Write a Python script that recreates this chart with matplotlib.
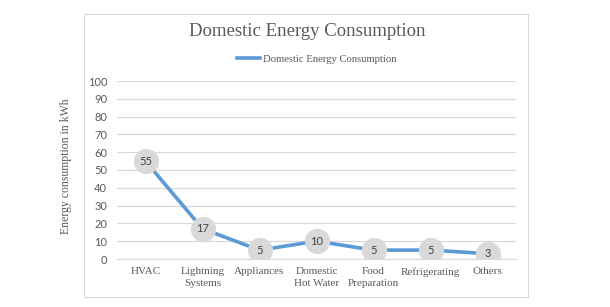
import matplotlib.pyplot as plt
from matplotlib.patches import Rectangle

# chart data
categories = ["HVAC", "Lightning\nSystems", "Appliances", "Domestic\nHot Water",
              "Food\nPreparation", "Refrigerating", "Others"]
consumption = [55, 17, 5, 10, 5, 5, 3]
yticks = list(range(0, 101, 10))

grey = "#595959"
blue = "#5b9bd5"

fig = plt.figure(figsize=(6.1, 3.07), dpi=100)
fig.patch.set_facecolor("white")

# outer chart border
fig.add_artist(Rectangle((84 / 610, 1 - 297 / 307), (528 - 84) / 610, (297 - 14) / 307,
                         transform=fig.transFigure, fill=False, edgecolor="#d9d9d9", lw=0.8))

ax = fig.add_axes([117 / 610, 1 - 259 / 307, (516 - 117) / 610, (259 - 81) / 307])
x = list(range(len(categories)))
ax.plot(x, consumption, color=blue, lw=2.6, zorder=2, label="Domestic Energy Consumption")
ax.scatter(x, consumption, s=330, color="#d9d9d9", zorder=3, linewidths=0)
for xi, v in zip(x, consumption):
    ax.text(xi, v, str(v), ha="center", va="center", fontsize=8, color="#404040",
            family="Lato", zorder=4)

ax.set_xlim(-0.5, len(categories) - 0.5)
ax.set_ylim(0, 100)
ax.set_yticks(yticks)
ax.set_yticklabels([str(t) for t in yticks], fontsize=8, color=grey, family="Lato")
ax.set_xticks(x)
ax.set_xticklabels(categories, fontsize=8, color=grey, family="Liberation Serif",
                   linespacing=1.45)
ax.tick_params(axis="y", length=0, pad=7)
ax.tick_params(axis="x", length=0, pad=6)
ax.grid(axis="y", color="#d9d9d9", lw=0.9)
ax.set_axisbelow(True)
for s in ["top", "right", "left"]:
    ax.spines[s].set_visible(False)
ax.spines["bottom"].set_color("#d9d9d9")

fig.text(66 / 610, 1 - 166 / 307, "Energy consumption in kWh", rotation=90, ha="center",
         va="center", fontsize=8.5, color=grey, family="Liberation Serif")

fig.text(307 / 610, 1 - 32 / 307, "Domestic Energy Consumption", ha="center", va="center",
         fontsize=13.5, color=grey, family="Liberation Serif")
ax.legend(loc="center", bbox_to_anchor=(0.5, 1 + 22 / 178), frameon=False, ncol=1,
          prop={"family": "Liberation Serif", "size": 7.7}, labelcolor=grey,
          handlelength=2.2, handletextpad=0.2)

fig.savefig("out.png", dpi=100)
